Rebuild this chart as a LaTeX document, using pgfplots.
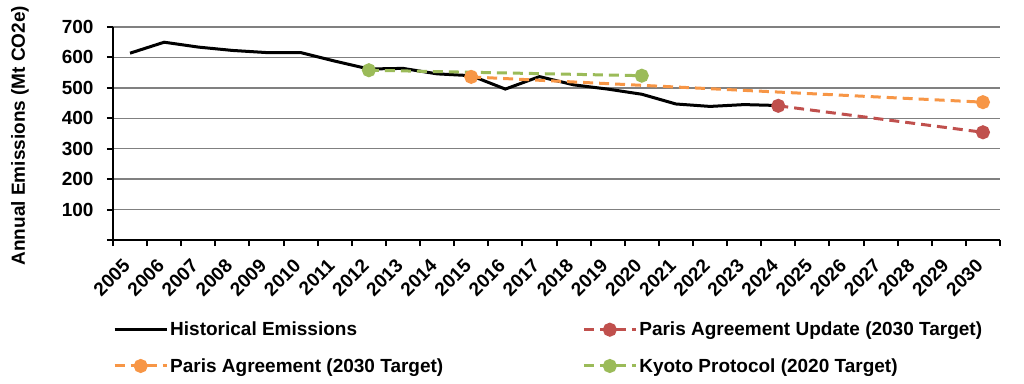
\documentclass[border=0pt]{standalone}
\usepackage{fontspec}
\setmainfont{Liberation Sans}
\usepackage{pgfplots}
\pgfplotsset{compat=1.18}
\definecolor{parisc}{RGB}{247,150,70}
\definecolor{updc}{RGB}{192,80,77}
\definecolor{kyotoc}{RGB}{155,187,89}
\definecolor{gridc}{RGB}{128,128,128}
\newcommand{\lblfont}{\bfseries\fontsize{19}{22}\selectfont}

\begin{document}
\begin{tikzpicture}
\useasboundingbox (0pt,0pt) rectangle (1024pt,383pt);
\begin{axis}[
  at={(113pt,143pt)}, anchor=south west,
  scale only axis, width=887pt, height=213pt,
  xmin=-0.5, xmax=25.5, ymin=0, ymax=700,
  axis lines*=left,
  axis line style={line width=2.5pt, black},
  /pgf/number format/assume math mode=true,
  xtick={0,...,25},
  xticklabels={2005,2006,2007,2008,2009,2010,2011,2012,2013,2014,2015,2016,2017,2018,2019,2020,2021,2022,2023,2024,2025,2026,2027,2028,2029,2030},
  minor xtick={-0.5,0.5,...,25.5},
  major x tick style={draw=none},
  minor x tick style={black, line width=2pt},
  minor tick length=6pt,
  major tick length=6pt,
  tick align=outside,
  ytick={100,200,...,700},
  extra y ticks={0}, extra y tick labels={},
  extra y tick style={grid=none},
  y tick style={black, line width=2pt},
  ymajorgrids,
  grid style={gridc, line width=1.3pt},
  xticklabel style={font=\lblfont, xshift=-1pt, yshift=-14pt, rotate=45, anchor=east},
  yticklabel style={font=\lblfont, xshift=-10pt},
  ylabel={Annual Emissions (Mt CO2e)},
  every axis y label/.style={at={(axis description cs:-0.105,0.49)}, rotate=90, anchor=center, font=\lblfont},
  legend columns=2,
  legend style={at={(axis description cs:0,-0.375)}, anchor=north west, draw=none, fill=none,
    font=\lblfont, inner sep=0pt, row sep=17pt,
    /tikz/every even column/.append style={column sep=137pt}},
  legend cell align=left,
  legend image code/.code={\draw[mark repeat=2,mark phase=2] plot coordinates {(0pt,0pt) (26pt,0pt) (52pt,0pt)};},
  clip=false,
]
\addplot[black, line width=3pt, no marks] coordinates {
(0,614) (1,650) (2,634) (3,623) (4,616) (5,616) (6,588) (7,562) (8,564) (9,546)
(10,540) (11,496) (12,537) (13,510) (14,496) (15,479) (16,447) (17,439) (18,445) (19,442)
};
\addlegendentry{Historical Emissions}
\addplot[updc, line width=3pt, dash pattern=on 10pt off 6pt, mark=*, mark size=5.5pt, mark options={solid}] coordinates {
(19,441) (25,354)
};
\addlegendentry{Paris Agreement Update (2030 Target)}
\addplot[parisc, line width=3pt, dash pattern=on 10pt off 6pt, mark=*, mark size=5.5pt, mark options={solid}] coordinates {
(10,536) (25,453)
};
\addlegendentry{Paris Agreement (2030 Target)}
\addplot[kyotoc, line width=3pt, dash pattern=on 10pt off 6pt, mark=*, mark size=5.5pt, mark options={solid}] coordinates {
(7,558) (15,540)
};
\addlegendentry{Kyoto Protocol (2020 Target)}
\end{axis}
\end{tikzpicture}
\end{document}
